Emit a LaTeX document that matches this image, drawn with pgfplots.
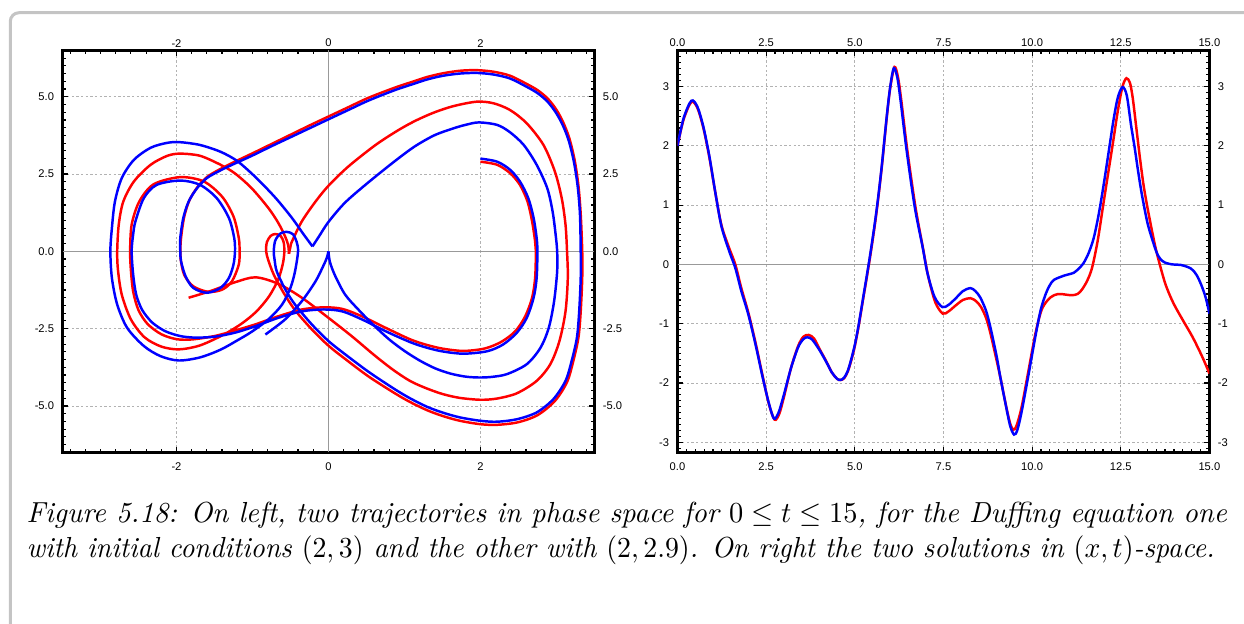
\documentclass[border=0pt]{standalone}
\usepackage{pgfplots}
\pgfplotsset{compat=1.18}
\usepackage{fontspec}
\newfontfamily\tickfont{Liberation Sans}
\definecolor{framegray}{RGB}{196,196,196}
\pgfplotsset{
  common/.style={
    scale only axis, width=183.4pt, height=138.6pt,
    tick align=inside,
    major tick length=2pt, minor tick length=1.1pt,
    every tick/.style={black, line width=0.4pt},
    axis line style={line width=0.9pt},
    tick label style={font=\tickfont\fontsize{3.85}{4}\selectfont},
    xticklabel style={yshift=0pt},
    yticklabel style={xshift=0.6pt},
  },
  overlay/.style={
    scale only axis, width=183.4pt, height=138.6pt,
    axis line style={draw=none}, major tick length=0pt,
    tick style={draw=none},
    tick label style={font=\tickfont\fontsize{3.85}{4}\selectfont},
    xticklabel pos=upper, yticklabel pos=upper,
    xticklabel style={yshift=-2.4pt},
    yticklabel style={xshift=-0.6pt},
  },
  gridst/.style={grid=major, major grid style={dash pattern=on 0.8pt off 0.8pt, black!30, line width=0.3pt}},
  cur/.style={line width=0.85pt, smooth, tension=0.5},
}
\begin{document}
\begin{tikzpicture}
\useasboundingbox (0,0) rectangle (428.93pt,-214.81pt);
\draw[framegray, line width=1.05pt, rounded corners=3pt] (3.55pt,-216pt) -- (3.55pt,-4.38pt) -- (432pt,-4.38pt);
% ---------------- left: phase plane ----------------
\begin{axis}[common, gridst, at={(21.55pt,-155.96pt)}, anchor=south west,
  xmin=-3.5, xmax=3.5, ymin=-6.5, ymax=6.5,
  xtick={-2,0,2}, xticklabels={-2,0,2},
  ytick={-5,-2.5,0,2.5,5}, yticklabels={-5.0,-2.5,0.0,2.5,5.0},
  minor xtick={-3.4,-3.2,...,3.41}, minor ytick={-6.25,-6,...,6.3}]
\draw[black!40, line width=0.35pt] (axis cs:0,-6.5) -- (axis cs:0,6.5);
\draw[black!40, line width=0.35pt] (axis cs:-3.5,0) -- (axis cs:3.5,0);
% red, initial (2,2.9)
\addplot[red, cur] coordinates {
(2.00,2.90) (2.22,2.80) (2.39,2.53) (2.52,2.15) (2.62,1.61) (2.68,0.97) (2.72,0.32) (2.73,0)
(2.72,-0.86) (2.68,-1.50) (2.59,-2.10) (2.46,-2.58) (2.28,-2.92) (2.06,-3.14) (1.78,-3.22) (1.51,-3.15) (1.30,-3.03) (1.08,-2.85) (0.75,-2.47) (0.44,-2.10) (0.18,-1.86) (-0.06,-1.81) (-0.35,-1.88) (-0.66,-2.10) (-0.96,-2.36) (-1.23,-2.56) (-1.5,-2.74) (-1.8,-2.85) (-2.0,-2.84) (-2.2,-2.68) (-2.38,-2.35) (-2.5,-1.9) (-2.57,-1.3) (-2.60,-0.6) (-2.61,0)
(-2.59,0.86) (-2.49,1.61) (-2.30,2.17) (-1.95,2.40) (-1.64,2.26) (-1.40,1.77) (-1.25,1.13) (-1.18,0.43) (-1.17,0)
(-1.18,-0.43) (-1.27,-0.97) (-1.40,-1.24) (-1.58,-1.31) (-1.78,-1.13) (-1.90,-0.75) (-1.945,-0.25) (-1.95,0)
(-1.94,0.43) (-1.90,1.1) (-1.83,1.65) (-1.72,2.09) (-1.59,2.42) (-1.41,2.68) (-1.24,2.89) (-1.0,3.17) (-0.75,3.47) (-0.5,3.77) (-0.25,4.07) (0.0,4.36) (0.26,4.66) (0.53,4.97) (0.88,5.30) (1.1,5.48) (1.30,5.64) (1.51,5.76) (1.73,5.84) (1.95,5.86) (2.17,5.81) (2.39,5.68) (2.62,5.40) (2.76,5.20) (2.89,4.93) (3.00,4.58) (3.09,4.17) (3.17,3.66) (3.24,2.95) (3.29,2.12) (3.32,1.2) (3.34,0)
(3.34,-0.86) (3.32,-1.94) (3.29,-2.79) (3.22,-3.57) (3.14,-4.23) (2.98,-4.84) (2.75,-5.30) (2.49,-5.53) (2.22,-5.61) (2.0,-5.59) (1.73,-5.48) (1.51,-5.33) (1.30,-5.14) (1.08,-4.88) (0.88,-4.6) (0.53,-4.05) (0.22,-3.48) (0.0,-3.05) (-0.22,-2.52) (-0.44,-1.9) (-0.6,-1.3) (-0.72,-0.75) (-0.79,-0.3) (-0.82,0)
(-0.81,0.3) (-0.76,0.5) (-0.70,0.56) (-0.63,0.5) (-0.59,0.3) (-0.58,0)
(-0.60,-0.4) (-0.66,-0.9) (-0.78,-1.45) (-0.95,-1.95) (-1.15,-2.35) (-1.4,-2.72) (-1.7,-3.05) (-1.97,-3.17) (-2.2,-3.08) (-2.42,-2.78) (-2.6,-2.2) (-2.72,-1.4) (-2.77,-0.6) (-2.78,0)
(-2.76,0.86) (-2.70,1.61) (-2.56,2.26) (-2.34,2.80) (-2.12,3.09) (-1.95,3.16) (-1.69,3.09) (-1.42,2.80) (-1.23,2.52) (-1.01,2.04) (-0.79,1.40) (-0.66,0.92) (-0.57,0.48) (-0.53,0.2) (-0.52,-0.08)
};
\addplot[red, cur] coordinates {
(-0.52,-0.08) (-0.50,0.15) (-0.48,0.32) (-0.35,0.97) (-0.17,1.61) (0.0,2.12) (0.26,2.74) (0.62,3.44) (0.92,3.92) (1.15,4.23) (1.40,4.50) (1.65,4.70) (1.95,4.84) (2.17,4.79) (2.39,4.57) (2.61,4.14) (2.83,3.44) (2.98,2.58) (3.07,1.72) (3.12,0.86) (3.14,0)
(3.15,-0.86) (3.12,-1.94) (3.04,-2.90) (2.92,-3.65) (2.74,-4.19) (2.48,-4.59) (2.22,-4.76) (2.0,-4.8) (1.73,-4.74) (1.51,-4.62) (1.30,-4.44) (1.08,-4.2) (0.85,-3.83) (0.6,-3.35) (0.31,-2.75) (0.0,-2.15) (-0.35,-1.50) (-0.66,-1.05) (-0.96,-0.84) (-1.23,-1.0) (-1.56,-1.29) (-1.84,-1.50)
};
% blue, initial (2,3)
\addplot[blue, cur] coordinates {
(2.00,3.00) (2.22,2.90) (2.39,2.64) (2.52,2.26) (2.63,1.72) (2.70,1.08) (2.74,0.43) (2.75,0)
(2.74,-0.86) (2.70,-1.50) (2.61,-2.15) (2.48,-2.63) (2.30,-3.01) (2.09,-3.23) (1.78,-3.31) (1.51,-3.24) (1.30,-3.12) (1.08,-2.94) (0.75,-2.58) (0.44,-2.20) (0.18,-1.94) (-0.06,-1.88) (-0.35,-1.94) (-0.66,-2.15) (-0.96,-2.42) (-1.23,-2.63) (-1.5,-2.76) (-1.75,-2.79) (-1.95,-2.74) (-2.15,-2.58) (-2.32,-2.30) (-2.45,-1.90) (-2.53,-1.40) (-2.57,-0.75) (-2.59,0)
(-2.57,0.55) (-2.54,0.97) (-2.43,1.72) (-2.26,2.15) (-1.95,2.29) (-1.69,2.15) (-1.47,1.72) (-1.31,1.08) (-1.24,0.43) (-1.23,0)
(-1.25,-0.43) (-1.31,-0.86) (-1.42,-1.18) (-1.60,-1.34) (-1.78,-1.18) (-1.88,-0.81) (-1.94,-0.32) (-1.95,0)
(-1.95,0.43) (-1.91,1.08) (-1.84,1.61) (-1.73,2.04) (-1.60,2.37) (-1.42,2.62) (-1.25,2.82) (-1.0,3.1) (-0.75,3.4) (-0.5,3.69) (-0.25,3.98) (0.0,4.27) (0.26,4.57) (0.53,4.88) (0.88,5.22) (1.1,5.40) (1.30,5.56) (1.51,5.68) (1.73,5.75) (1.95,5.77) (2.17,5.72) (2.39,5.59) (2.61,5.32) (2.75,5.12) (2.88,4.85) (2.99,4.5) (3.08,4.1) (3.16,3.6) (3.23,2.9) (3.28,2.1) (3.31,1.2) (3.32,0)
(3.32,-0.86) (3.30,-1.94) (3.27,-2.79) (3.20,-3.55) (3.12,-4.19) (2.96,-4.78) (2.74,-5.21) (2.48,-5.43) (2.22,-5.51) (2.0,-5.48) (1.73,-5.37) (1.51,-5.22) (1.30,-5.03) (1.08,-4.76) (0.88,-4.47) (0.53,-3.90) (0.22,-3.33) (0.0,-2.9) (-0.22,-2.36) (-0.44,-1.72) (-0.57,-1.22) (-0.68,-0.65) (-0.71,-0.25) (-0.72,0)
(-0.70,0.35) (-0.63,0.58) (-0.55,0.63) (-0.47,0.56) (-0.42,0.32) (-0.40,0)
(-0.44,-0.65) (-0.50,-1.18) (-0.61,-1.72) (-0.79,-2.20) (-1.01,-2.60) (-1.2,-2.88) (-1.42,-3.18) (-1.69,-3.43) (-1.97,-3.53) (-2.21,-3.39) (-2.43,-3.06) (-2.65,-2.47) (-2.78,-1.72) (-2.85,-0.86) (-2.87,0)
(-2.85,0.75) (-2.81,1.61) (-2.72,2.37) (-2.56,2.96) (-2.34,3.35) (-2.12,3.51) (-1.95,3.53) (-1.69,3.44) (-1.42,3.22) (-1.2,2.92) (-0.96,2.40) (-0.70,1.74) (-0.48,1.08) (-0.33,0.56) (-0.21,0.16)
};
\addplot[blue, cur] coordinates {
(-0.21,0.16) (-0.12,0.5) (0.0,0.95) (0.22,1.58) (0.53,2.24) (0.88,2.93) (1.14,3.4) (1.4,3.76) (1.66,3.99) (1.82,4.1) (1.98,4.17) (2.22,4.09) (2.39,3.85) (2.57,3.44) (2.74,2.80) (2.88,2.04) (2.95,1.29) (2.99,0.54) (3.01,0)
(3.01,-0.65) (2.97,-1.61) (2.90,-2.47) (2.79,-3.12) (2.61,-3.65) (2.35,-3.97) (2.15,-4.06) (1.98,-4.08) (1.8,-4.05) (1.6,-3.95) (1.4,-3.78) (1.2,-3.53) (1.0,-3.22) (0.8,-2.85) (0.6,-2.4) (0.4,-1.9) (0.22,-1.4) (0.09,-0.8) (0.02,-0.35) (0,0)
};
\addplot[blue, cur] coordinates {
(0,0) (-0.02,-0.2) (-0.06,-0.43) (-0.17,-0.97) (-0.35,-1.61) (-0.57,-2.20) (-0.83,-2.69)
};
\end{axis}
\begin{axis}[overlay, at={(21.55pt,-155.96pt)}, anchor=south west,
  xmin=-3.5, xmax=3.5, ymin=-6.5, ymax=6.5,
  xtick={-2,0,2}, xticklabels={-2,0,2},
  ytick={-5,-2.5,0,2.5,5}, yticklabels={-5.0,-2.5,0.0,2.5,5.0}]
\end{axis}
% ---------------- right: x(t) ----------------
\begin{axis}[common, gridst, at={(233.6pt,-155.96pt)}, anchor=south west,
  xmin=0, xmax=15, ymin=-3.17, ymax=3.61,
  xtick={0,2.5,...,15}, xticklabels={0.0,2.5,5.0,7.5,10.0,12.5,15.0},
  ytick={-3,...,3}, yticklabels={-3,-2,-1,0,1,2,3},
  minor xtick={0.25,0.5,...,14.8}, minor ytick={-3.1,-3.0,...,3.65}]
\draw[black!40, line width=0.35pt] (axis cs:0,0) -- (axis cs:15,0);
\addplot[red, cur] coordinates {
(0,2.0) (0.17,2.44) (0.39,2.74) (0.56,2.64) (0.73,2.30) (0.9,1.80) (1.07,1.2) (1.24,0.66) (1.46,0.27) (1.63,0.0) (1.8,-0.40) (2.0,-0.82) (2.2,-1.32) (2.4,-1.88) (2.58,-2.36) (2.74,-2.62) (2.87,-2.52) (3.0,-2.24) (3.2,-1.75) (3.4,-1.38) (3.55,-1.22) (3.7,-1.19) (3.85,-1.25) (4.0,-1.42) (4.2,-1.64) (4.35,-1.82) (4.5,-1.93) (4.6,-1.95) (4.7,-1.92) (4.8,-1.81) (4.9,-1.62) (5.0,-1.38) (5.1,-1.07) (5.22,-0.64) (5.43,0.12) (5.6,0.82) (5.75,1.58) (5.9,2.47) (6.0,2.98) (6.12,3.33) (6.22,3.15) (6.31,2.77) (6.48,1.93) (6.71,0.97) (6.93,0.25) (7.07,-0.2) (7.27,-0.64) (7.48,-0.83) (7.65,-0.79) (7.85,-0.69) (8.05,-0.6) (8.26,-0.57) (8.42,-0.62) (8.56,-0.72) (8.7,-0.9) (8.82,-1.15) (9.0,-1.62) (9.12,-1.95) (9.27,-2.4) (9.38,-2.68) (9.47,-2.79) (9.56,-2.72) (9.7,-2.42) (9.89,-1.82) (10.1,-1.15) (10.28,-0.75) (10.51,-0.56) (10.73,-0.50) (10.95,-0.51) (11.12,-0.52) (11.28,-0.50) (11.4,-0.43) (11.55,-0.28) (11.69,-0.06) (11.85,0.4) (12.0,0.98) (12.13,1.48) (12.28,2.05) (12.42,2.6) (12.55,3.0) (12.66,3.14) (12.76,3.06) (12.84,2.8) (12.94,2.3) (13.04,1.8) (13.14,1.35) (13.24,1.0) (13.33,0.72) (13.47,0.31) (13.6,0.0) (13.77,-0.35) (13.99,-0.66) (14.27,-0.96) (14.53,-1.23) (14.8,-1.56) (15.0,-1.84)
};
\addplot[blue, cur] coordinates {
(0,2.00) (0.17,2.46) (0.39,2.76) (0.56,2.66) (0.73,2.32) (0.9,1.82) (1.07,1.2) (1.24,0.64) (1.46,0.22) (1.63,-0.06) (1.8,-0.45) (2.0,-0.85) (2.2,-1.35) (2.4,-1.9) (2.58,-2.35) (2.72,-2.6) (2.85,-2.5) (3.0,-2.2) (3.2,-1.75) (3.4,-1.4) (3.55,-1.26) (3.67,-1.23) (3.8,-1.27) (4.0,-1.44) (4.2,-1.65) (4.35,-1.82) (4.5,-1.93) (4.6,-1.95) (4.7,-1.91) (4.8,-1.8) (4.9,-1.6) (5.0,-1.36) (5.1,-1.05) (5.22,-0.62) (5.43,0.15) (5.6,0.85) (5.75,1.6) (5.9,2.49) (6.0,3.0) (6.1,3.31) (6.2,3.15) (6.29,2.77) (6.46,1.93) (6.69,0.97) (6.91,0.30) (7.05,-0.15) (7.25,-0.55) (7.47,-0.72) (7.65,-0.68) (7.85,-0.57) (8.05,-0.45) (8.26,-0.40) (8.4,-0.45) (8.54,-0.56) (8.7,-0.78) (8.82,-1.05) (9.0,-1.55) (9.1,-1.89) (9.25,-2.35) (9.38,-2.72) (9.49,-2.87) (9.58,-2.8) (9.7,-2.5) (9.89,-1.89) (10.11,-1.16) (10.25,-0.75) (10.39,-0.49) (10.5,-0.35) (10.62,-0.26) (10.9,-0.19) (11.18,-0.14) (11.35,-0.05) (11.46,0.03) (11.6,0.2) (11.74,0.45) (11.88,0.85) (12.02,1.35) (12.16,1.9) (12.3,2.45) (12.42,2.82) (12.55,2.99) (12.67,2.85) (12.79,2.35) (12.89,1.98) (12.97,1.65) (13.05,1.34) (13.12,1.1) (13.27,0.66) (13.5,0.22) (13.62,0.09) (13.75,0.03) (13.95,0.0) (14.2,-0.01) (14.48,-0.07) (14.64,-0.18) (14.78,-0.36) (14.9,-0.57) (15.0,-0.83)
};
\end{axis}
\begin{axis}[overlay, at={(233.6pt,-155.96pt)}, anchor=south west,
  xmin=0, xmax=15, ymin=-3.17, ymax=3.61,
  xtick={0,2.5,...,15}, xticklabels={0.0,2.5,5.0,7.5,10.0,12.5,15.0},
  ytick={-3,...,3}, yticklabels={-3,-2,-1,0,1,2,3}]
\end{axis}
% ---------------- caption ----------------
\node[anchor=base west, inner sep=0pt] at (9.0pt,-180.2pt) {\resizebox{413.8pt}{\height}{\itshape Figure 5.18: On left, two trajectories in phase space for $0 \le t \le 15$, for the Duffing equation one}};
\node[anchor=base west, inner sep=0pt] at (9.0pt,-192.2pt) {\resizebox{409.6pt}{\height}{\itshape with initial conditions $(2,3)$ and the other with $(2,2.9)$. On right the two solutions in $(x,t)$-space.}};
\end{tikzpicture}
\end{document}
